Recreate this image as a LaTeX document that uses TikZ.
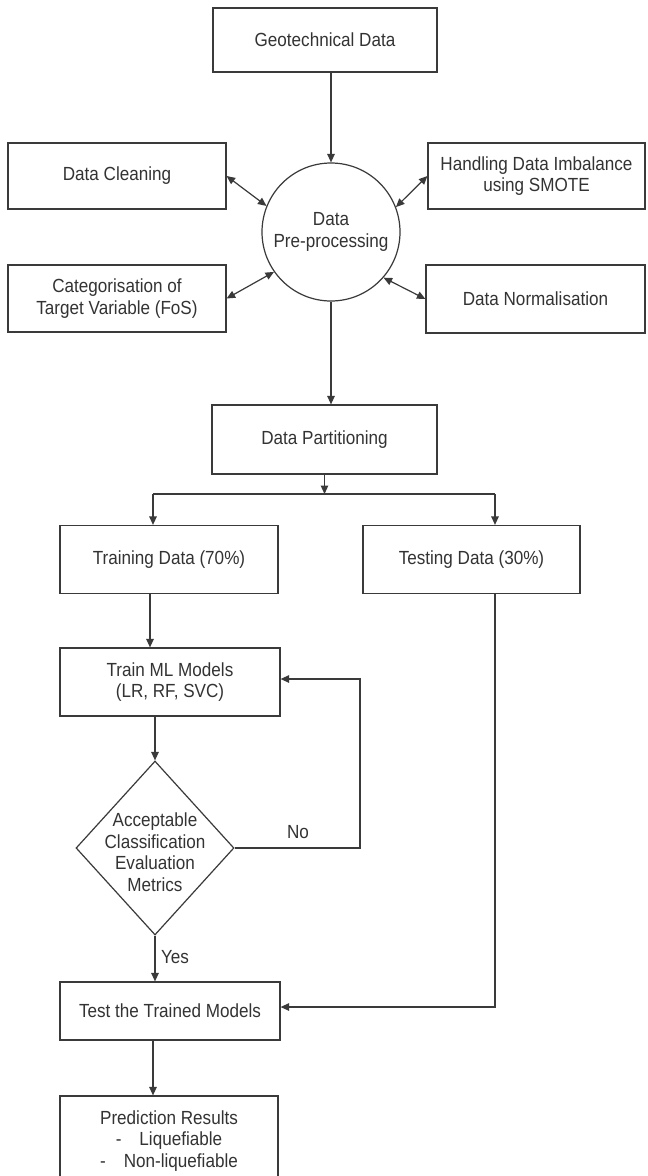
\documentclass[tikz,border=0pt]{standalone}
\usepackage{fontspec}
\setmainfont[FakeStretch=0.9]{Liberation Sans}
\usetikzlibrary{arrows.meta,shapes.geometric}
\definecolor{ln}{HTML}{3A3A3A}
\definecolor{tx}{HTML}{333333}
\tikzset{
  box/.style={draw=ln,line width=1.2pt,rectangle,inner sep=0pt,align=center,text=tx,font=\fontsize{19}{21.5}\selectfont},
  plain/.style={inner sep=0pt,align=center,text=tx,font=\fontsize{19}{21.5}\selectfont},
  arr/.style={draw=ln,line width=1.2pt,-{Triangle[length=8.5pt,width=7.5pt]}},
  dbl/.style={draw=ln,line width=1.2pt,{Triangle[length=8.5pt,width=7.5pt]}-{Triangle[length=8.5pt,width=7.5pt]}},
  ln/.style={draw=ln,line width=1.2pt}
}
\begin{document}
\begin{tikzpicture}[x=1pt,y=-1pt]
\useasboundingbox[fill=white] (0,0) rectangle (648,1176);
% nodes
\node[box,minimum width=224,minimum height=64] (geo) at (325,40) {Geotechnical Data};
\node[box,minimum width=218,minimum height=66] (clean) at (117,176) {Data Cleaning};
\node[box,minimum width=217,minimum height=66] (smote) at (536.5,176) {Handling Data Imbalance\\using SMOTE};
\node[box,circle,minimum size=138] (pre) at (331,232) {Data\\Pre-processing};
\node[box,minimum width=218,minimum height=67] (cat) at (117,298.5) {Categorisation of\\Target Variable (FoS)};
\node[box,minimum width=219,minimum height=68] (norm) at (535.5,299) {Data Normalisation};
\node[box,minimum width=225,minimum height=69] (part) at (324.5,439.5) {Data Partitioning};
\node[box,minimum width=218,minimum height=68] (train) at (169,559.5) {Training Data (70\%)};
\node[box,minimum width=217,minimum height=68] (test) at (471.5,559.5) {Testing Data (30\%)};
\node[box,minimum width=220,minimum height=68] (ml) at (170,682) {Train ML Models\\(LR, RF, SVC)};
\node[box,diamond,minimum width=158,minimum height=174] (dec) at (155,848) {};
\node[plain] (dectext) at (155,852) {Acceptable\\Classification\\Evaluation\\Metrics};
\node[box,minimum width=220,minimum height=58] (testm) at (170,1011) {Test the Trained Models};
\node[box,minimum width=218,minimum height=90] (pred) at (169,1141) {Prediction Results\\-\hspace{18pt}Liquefiable\\-\hspace{18pt}Non-liquefiable};
\node[plain] (no) at (298,832) {No};
\node[plain] (yes) at (175,957) {Yes};
% coordinates
\coordinate (tl) at (153,494);
\coordinate (tr) at (495,494);
\coordinate (loop) at (360,679);
\coordinate (tc) at (495,1007);
% connectors
\draw[arr] (geo.south -| pre.north) -- (pre.north);
\draw[dbl] (clean.east) -- (pre.158);
\draw[dbl] (smote.west) -- (pre.21);
\draw[dbl] (cat.east) -- (pre.215);
\draw[dbl] (norm.west) -- (pre.319);
\draw[arr] (pre.south) -- (pre.south |- part.north);
\draw[arr] (part.south) -- (part.south |- tl);
\draw[ln] (tl) -- (tr);
\draw[arr] (tl) -- (tl |- train.north);
\draw[arr] (tr) -- (tr |- test.north);
\draw[arr] ([xshift=-19pt]train.south) -- ([xshift=-20pt]ml.north);
\draw[arr] (ml.south -| dec.north) -- (dec.north);
\draw[arr] (dec.east) -| (loop) -- (loop -| ml.east);
\draw[arr] (dec.south) -- (dec.south |- testm.north);
\draw[arr] (tc |- test.south) -- (tc) -- (tc -| testm.east);
\draw[arr] ([xshift=-17pt]testm.south) -- ([xshift=-16pt]pred.north);
\end{tikzpicture}
\end{document}
